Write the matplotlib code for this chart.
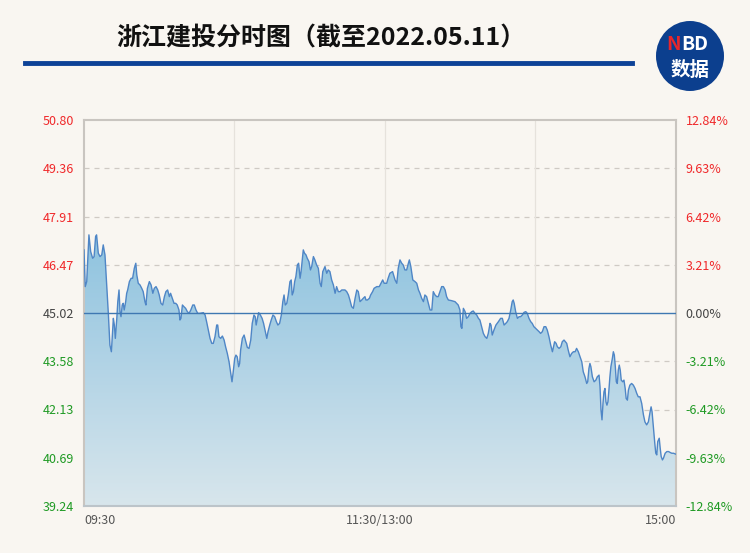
#浙江建投分时图 - Nachbau des Referenzbildes
import numpy as np
import matplotlib
matplotlib.use('Agg')
import matplotlib.pyplot as plt
from matplotlib.colors import LinearSegmentedColormap
from matplotlib.patches import Ellipse

plt.rcParams['font.family'] = ['Noto Sans CJK SC', 'DejaVu Sans']

#Daten (Minuten seit 09:30, Handelszeit ohne Mittagspause)
minutes = [0.0, 0.5, 1.1, 2.0, 2.7, 3.5, 4.1, 4.7, 5.1, 5.8, 6.5, 7.2, 7.8, 8.5, 8.9, 9.4, 9.9,
           10.5, 11.1, 11.5, 11.9, 12.3, 12.7, 13.3, 13.7, 14.2, 14.6, 15.0, 15.5, 15.9, 16.3,
           16.9, 17.3, 17.7, 18.4, 19.1, 19.7, 20.4, 21.0, 21.4, 22.0, 22.7, 23.4, 24.0, 24.7,
           25.1, 25.7, 26.5, 27.2, 27.9, 28.5, 29.2, 29.9, 30.5, 31.2, 31.9, 32.6, 33.2, 33.9,
           34.6, 35.1, 35.8, 36.5, 37.2, 37.8, 38.5, 38.9, 39.3, 39.9, 40.5, 41.2, 41.9, 42.6,
           43.3, 44.1, 44.7, 45.4, 46.1, 47.0, 48.4, 49.1, 49.7, 50.4, 51.1, 51.8, 52.4, 53.1,
           53.8, 54.2, 54.7, 55.4, 56.1, 56.8, 57.4, 58.1, 58.8, 59.5, 60.0, 60.5, 61.1, 61.6,
           62.1, 62.7, 63.1, 63.5, 64.2, 64.9, 65.6, 66.2, 66.9, 67.6, 68.2, 68.9, 69.4, 69.8,
           70.3, 70.8, 71.5, 72.2, 72.8, 73.5, 74.1, 74.6, 75.3, 75.9, 76.6, 77.3, 78.0, 78.6,
           79.3, 80.0, 80.6, 81.1, 81.6, 82.2, 82.8, 83.5, 84.0, 84.4, 84.9, 85.4, 85.9, 86.5,
           87.0, 87.6, 88.0, 88.5, 88.9, 89.4, 90.0, 90.5, 91.2, 91.8, 92.3, 93.0, 93.6, 94.3,
           95.0, 95.7, 96.2, 96.8, 97.7, 98.4, 99.0, 99.7, 100.4, 101.1, 101.8, 102.4, 103.1,
           103.8, 104.5, 105.8, 106.5, 107.2, 107.8, 108.5, 109.2, 109.9, 110.6, 111.2, 111.9,
           112.6, 113.2, 113.9, 114.3, 114.9, 115.7, 116.2, 117.0, 117.6, 118.7, 119.7, 120.4,
           121.1, 121.7, 122.7, 123.3, 124.0, 125.1, 126.1, 126.8, 127.4, 128.1, 128.8, 129.4,
           130.1, 130.8, 131.5, 131.9, 132.5, 133.3, 134.2, 134.9, 135.6, 136.2, 136.9, 137.6,
           138.2, 138.9, 139.6, 140.3, 141.0, 141.6, 142.3, 143.0, 143.6, 144.3, 145.0, 145.7,
           146.4, 147.0, 147.7, 149.0, 150.4, 151.7, 152.4, 152.8, 153.2, 153.8, 154.5, 155.1,
           155.8, 156.5, 157.2, 157.8, 158.5, 159.2, 159.9, 160.5, 161.2, 161.9, 162.6, 163.3,
           163.9, 164.6, 165.0, 165.5, 166.2, 167.0, 168.0, 168.9, 169.6, 170.3, 171.0, 171.6,
           172.3, 173.0, 173.6, 174.0, 174.4, 175.0, 175.7, 176.4, 177.0, 177.7, 178.4, 179.1,
           179.7, 180.4, 181.1, 181.7, 182.4, 183.1, 183.8, 184.5, 185.1, 185.8, 186.5, 187.2,
           187.8, 188.5, 189.2, 189.9, 190.2, 190.8, 191.4, 191.9, 192.6, 193.3, 193.9, 194.6,
           195.7, 196.3, 197.0, 197.7, 198.4, 199.1, 199.7, 200.4, 201.1, 201.8, 202.4, 203.1,
           203.8, 204.2, 204.7, 205.1, 205.5, 206.1, 206.8, 207.5, 208.1, 208.8, 209.2, 209.6,
           210.0, 210.4, 210.8, 211.2, 211.6, 212.0, 212.4, 212.8, 213.2, 213.6, 214.2, 214.6,
           215.0, 215.4, 215.8, 216.2, 216.6, 217.0, 217.4, 217.8, 218.4, 218.9, 219.4, 219.8,
           220.3, 220.7, 221.3, 222.0, 222.7, 223.4, 224.1, 224.7, 225.4, 226.1, 226.8, 227.4,
           228.1, 228.8, 229.5, 229.9, 230.3, 230.8, 231.4, 231.8, 232.2, 232.6, 233.2, 233.6,
           234.0, 234.5, 234.9, 235.6, 236.3, 237.0, 237.7, 238.3, 239.0, 239.7, 240.0]
prices = [46.91, 45.81, 45.96, 47.36, 46.86, 46.66, 46.71, 47.31, 47.36, 46.81, 46.71, 46.76, 47.06,
          46.76, 46.26, 45.66, 44.96, 44.06, 43.86, 44.36, 44.86, 44.66, 44.26, 44.86, 45.36, 45.71,
          45.06, 44.91, 45.26, 45.31, 45.11, 45.36, 45.61, 45.71, 45.96, 46.06, 46.06, 46.36, 46.51,
          46.16, 45.91, 45.86, 45.76, 45.66, 45.36, 45.26, 45.76, 45.96, 45.86, 45.61, 45.76, 45.81,
          45.71, 45.56, 45.31, 45.26, 45.51, 45.66, 45.71, 45.51, 45.61, 45.46, 45.31, 45.31, 45.26,
          45.11, 44.81, 44.86, 45.26, 45.21, 45.16, 45.06, 45.01, 45.11, 45.26, 45.26, 45.11, 45.01,
          45.01, 45.03, 44.96, 44.76, 44.51, 44.26, 44.11, 44.11, 44.31, 44.66, 44.66, 44.31, 44.26,
          44.33, 44.21, 44.01, 43.81, 43.56, 43.21, 42.96, 43.26, 43.66, 43.76, 43.71, 43.41, 43.51,
          43.91, 44.26, 44.36, 44.16, 43.99, 43.96, 44.21, 44.71, 44.96, 44.91, 44.66, 44.86, 45.03,
          44.96, 44.86, 44.71, 44.46, 44.26, 44.46, 44.66, 44.81, 44.96, 44.91, 44.76, 44.66, 44.71,
          44.96, 45.36, 45.56, 45.26, 45.31, 45.56, 45.96, 46.01, 45.56, 45.66, 45.96, 46.11, 46.46,
          46.51, 46.06, 46.26, 46.61, 46.91, 46.81, 46.76, 46.66, 46.56, 46.31, 46.41, 46.71, 46.61,
          46.46, 46.36, 45.91, 45.81, 46.26, 46.41, 46.21, 46.31, 46.26, 46.01, 45.86, 45.61, 45.81,
          45.66, 45.66, 45.71, 45.71, 45.66, 45.56, 45.41, 45.21, 45.16, 45.46, 45.71, 45.66, 45.36,
          45.41, 45.46, 45.51, 45.41, 45.41, 45.46, 45.56, 45.66, 45.76, 45.81, 45.81, 45.91, 46.01,
          45.91, 45.91, 46.06, 46.21, 46.26, 46.01, 45.91, 46.36, 46.61, 46.51, 46.46, 46.31, 46.31,
          46.51, 46.61, 46.41, 46.01, 45.96, 45.91, 45.71, 45.61, 45.46, 45.36, 45.56, 45.51, 45.31,
          45.11, 45.11, 45.66, 45.56, 45.51, 45.51, 45.66, 45.81, 45.81, 45.71, 45.51, 45.41, 45.39,
          45.36, 45.26, 45.11, 44.61, 44.56, 45.16, 45.06, 44.86, 44.91, 45.01, 45.06, 45.08, 45.01,
          44.96, 44.86, 44.81, 44.61, 44.41, 44.31, 44.26, 44.41, 44.71, 44.66, 44.36, 44.51, 44.66,
          44.76, 44.86, 44.86, 44.66, 44.71, 44.76, 44.86, 45.11, 45.36, 45.41, 45.31, 45.06, 44.86,
          44.91, 44.91, 44.96, 45.04, 45.06, 45.01, 44.86, 44.76, 44.71, 44.61, 44.56, 44.51, 44.46,
          44.41, 44.46, 44.61, 44.61, 44.51, 44.31, 44.06, 43.86, 43.96, 44.16, 44.11, 44.01, 43.96,
          44.01, 44.16, 44.21, 44.11, 43.91, 43.71, 43.81, 43.86, 43.86, 43.96, 43.86, 43.71, 43.56,
          43.26, 43.11, 42.91, 42.96, 43.36, 43.51, 43.41, 43.11, 42.96, 43.01, 43.11, 43.16, 42.81,
          42.11, 41.82, 42.32, 42.66, 42.76, 42.36, 42.26, 42.36, 42.71, 43.11, 43.41, 43.66, 43.86,
          43.76, 43.41, 42.96, 42.91, 43.31, 43.46, 43.31, 43.01, 42.96, 43.01, 42.76, 42.46, 42.41,
          42.71, 42.86, 42.91, 42.86, 42.76, 42.61, 42.51, 42.51, 42.31, 41.97, 41.76, 41.67, 41.76,
          42.06, 42.21, 42.06, 41.62, 41.12, 40.82, 40.77, 41.17, 41.27, 40.97, 40.72, 40.62, 40.67,
          40.82, 40.87, 40.87, 40.84, 40.82, 40.82, 40.80, 40.79]

prev_close = 45.02
price_ticks = [39.24, 40.69, 42.13, 43.58, 45.02, 46.47, 47.91, 49.36, 50.80]
pct_labels = ['-12.84%', '-9.63%', '-6.42%', '-3.21%', '0.00%', '3.21%', '6.42%', '9.63%', '12.84%']
time_ticks = [0, 120, 240]
time_labels = ['09:30', '11:30/13:00', '15:00']

#Farben
bg = '#f9f6f1'
red = '#f0282a'
green = '#1f9a24'
grey = '#444444'

fig = plt.figure(figsize=(7.5, 5.53), dpi=100, facecolor=bg)
ax = fig.add_axes([84/750, 1-506/553, 592/750, 386/553])
ax.set_facecolor(bg)
ax.set_xlim(0, 240)
ax.set_ylim(price_ticks[0], price_ticks[-1])

#Gitter
for p in price_ticks[1:-1]:
    if p != prev_close:
        ax.axhline(p, color='#cfcac4', lw=0.9, ls=(0, (4, 4)), zorder=0)
for m in [61, 122, 183]:
    ax.axvline(m, color='#e6e2dc', lw=0.9, zorder=0)

#Verlaufsfüllung unter der Linie
cmap = LinearSegmentedColormap.from_list('blau', ['#d8e6ec', '#b3d4e6', '#8ec3df'])
grad = np.linspace(0, 1, 256).reshape(-1, 1)
im = ax.imshow(grad, extent=[0, 240, price_ticks[0], max(prices)], origin='lower',
               cmap=cmap, aspect='auto', zorder=1, interpolation='bicubic')
poly = ax.fill_between(minutes, prices, price_ticks[0], color='none', lw=0)
im.set_clip_path(poly.get_paths()[0], transform=ax.transData)
ax.set_ylim(price_ticks[0], price_ticks[-1])

ax.plot(minutes, prices, color='#4f86c6', lw=1.0, zorder=3)
ax.axhline(prev_close, color='#3f78b2', lw=1.0, zorder=4)

#Rahmen
for s in ['left', 'top', 'right']:
    ax.spines[s].set_color('#c9c5c0')
    ax.spines[s].set_linewidth(1.5)
ax.spines['bottom'].set_color('#bcc4c9')
ax.spines['bottom'].set_linewidth(1.5)

#Achsenbeschriftung
ax.set_yticks(price_ticks)
ax.set_yticklabels(['%.2f' % p for p in price_ticks])
ax.tick_params(axis='y', length=0, pad=7, labelsize=9)
for lab, p in zip(ax.get_yticklabels(), price_ticks):
    lab.set_color(red if p > prev_close else (green if p < prev_close else grey))

ax.set_xticks(time_ticks)
ax.set_xticklabels(time_labels)
ax.tick_params(axis='x', length=0, pad=6, labelsize=9, labelcolor='#555555')
xl = ax.get_xticklabels()
xl[0].set_ha('left')
xl[2].set_ha('right')

ax2 = ax.twinx()
ax2.set_ylim(price_ticks[0], price_ticks[-1])
ax2.set_yticks(price_ticks)
ax2.set_yticklabels(pct_labels)
ax2.tick_params(axis='y', length=0, pad=7, labelsize=9)
for lab, p in zip(ax2.get_yticklabels(), price_ticks):
    lab.set_color(red if p > prev_close else (green if p < prev_close else grey))
for s in ax2.spines.values():
    s.set_visible(False)

#Titel und Linie
fig.text(321/750, 1-38/553, '浙江建投分时图（截至2022.05.11）', ha='center', va='center',
         fontsize=18, fontweight='bold', color='#111111')
fig.add_artist(plt.Line2D([25/750, 632/750], [1-63/553, 1-63/553], color='#0d4297', lw=3.5))

#Logo
fig.add_artist(Ellipse((690/750, 1-56/553), 68/750, 70/553, transform=fig.transFigure,
                       facecolor='#0c3f8e', edgecolor='none'))
fig.text(681/750, 1-44/553, 'N', ha='right', va='center', fontsize=14, fontweight='bold',
         color='#e8262b', style='italic')
fig.text(681/750, 1-44/553, 'BD', ha='left', va='center', fontsize=14, fontweight='bold',
         color='white')
fig.text(690/750, 1-70/553, '数据', ha='center', va='center', fontsize=14, fontweight='bold',
         color='white')

fig.savefig('out.png', dpi=100, facecolor=bg)
